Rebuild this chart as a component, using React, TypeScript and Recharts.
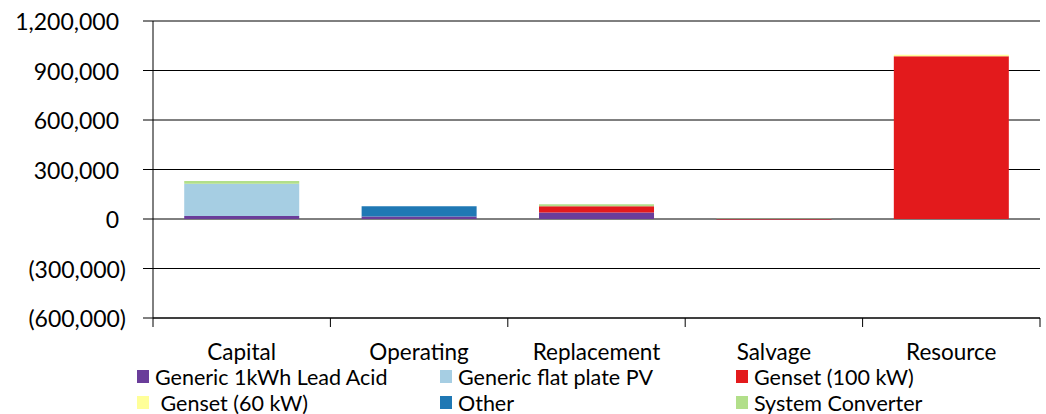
import React from 'react';
import { BarChart, Bar, XAxis, YAxis, CartesianGrid } from 'recharts';

const categories = ['Capital', 'Operating', 'Replacement', 'Salvage', 'Resource'];

const leadAcid = [18000, 15000, 40000, -1000, 0];
const flatPlatePV = [196000, 0, 0, 0, 0];
const genset100 = [0, 0, 38000, -3000, 986000];
const genset60 = [0, 0, 0, 0, 10000];
const other = [0, 63000, 0, 0, 0];
const converter = [16000, 0, 12000, 1500, 0];

const yTicks = [-600000, -300000, 0, 300000, 600000, 900000, 1200000];
const boundaryTicks = [0, 1, 2, 3, 4, 5];

const series = [
  { key: 'leadAcid', name: 'Generic 1kWh Lead Acid', color: '#6A3D9A', values: leadAcid },
  { key: 'pv', name: 'Generic flat plate PV', color: '#A6CEE3', values: flatPlatePV },
  { key: 'genset100', name: 'Genset (100 kW)', color: '#E31A1C', values: genset100 },
  { key: 'genset60', name: ' Genset (60 kW)', color: '#FFFF99', values: genset60 },
  { key: 'other', name: 'Other', color: '#1F78B4', values: other },
  { key: 'converter', name: 'System Converter', color: '#B2DF8A', values: converter },
];

const data = categories.map((name, i) => {
  const row: any = { name, pos: i + 0.5 };
  series.forEach((s) => (row[s.key] = s.values[i]));
  return row;
});

const FONT = 'Lato, "Liberation Sans", sans-serif';

const formatValue = (v: number) => {
  const s = Math.abs(v).toLocaleString('en-US');
  return v < 0 ? `(${s})` : s;
};

const YTick = ({ x, y, payload }: any) => {
  const v = payload.value as number;
  return (
    <text
      x={x + (v < 0 ? 7 : 0)}
      y={y}
      textAnchor="end"
      dominantBaseline="central"
      fontSize={23}
      fontFamily={FONT}
      fill="#000"
    >
      {formatValue(v)}
    </text>
  );
};

const CatTick = ({ x, y, payload }: any) => (
  <text
    x={x}
    y={y + 23}
    textAnchor="middle"
    dominantBaseline="central"
    fontSize={22.5}
    fontFamily={FONT}
    fill="#000"
  >
    {payload.value}
  </text>
);

const EmptyTick = () => <g />;

const legendCols = [137, 440, 736];
const legendRows = [370, 396];

export default function App() {
  return (
    <div style={{ position: 'relative', width: 1046, height: 414, background: '#fff' }}>
      <style>{'body{margin:0}'}</style>
      <BarChart
        width={1046}
        height={414}
        data={data}
        stackOffset="sign"
        barCategoryGap="17.6%"
        margin={{ top: 21, right: 6, bottom: 36, left: 0 }}
      >
        <CartesianGrid xAxisId="cat" vertical={false} stroke="#000" />
        <XAxis
          xAxisId="cat"
          dataKey="name"
          interval={0}
          height={50}
          axisLine={false}
          tickLine={false}
          tickSize={0}
          tickMargin={0}
          tick={<CatTick />}
        />
        <XAxis
          xAxisId="bnd"
          dataKey="pos"
          type="number"
          domain={[0, 5]}
          ticks={boundaryTicks}
          interval={0}
          allowDataOverflow
          tick={<EmptyTick />}
          tickSize={9}
          height={10}
          axisLine={{ stroke: '#000' }}
          tickLine={{ stroke: '#000' }}
        />
        <YAxis
          width={153}
          domain={[-600000, 1200000]}
          ticks={yTicks}
          interval={0}
          tickSize={10}
          tickMargin={24}
          axisLine={{ stroke: '#000' }}
          tickLine={{ stroke: '#000' }}
          tick={<YTick />}
        />
        {series.map((s) => (
          <Bar
            key={s.key}
            xAxisId="cat"
            dataKey={s.key}
            name={s.name}
            stackId="a"
            fill={s.color}
            isAnimationActive={false}
          />
        ))}
      </BarChart>
      {series.map((s, i) => (
        <div
          key={s.key}
          style={{
            position: 'absolute',
            left: legendCols[i % 3],
            top: legendRows[Math.floor(i / 3)] - 4,
            height: 21,
            display: 'flex',
            alignItems: 'center',
            fontFamily: FONT,
            fontSize: 21.5,
            color: '#000',
            whiteSpace: 'pre',
          }}
        >
          <span style={{ width: 12, height: 13, background: s.color, marginRight: 6, display: 'inline-block' }} />
          <span>{s.name}</span>
        </div>
      ))}
    </div>
  );
}
